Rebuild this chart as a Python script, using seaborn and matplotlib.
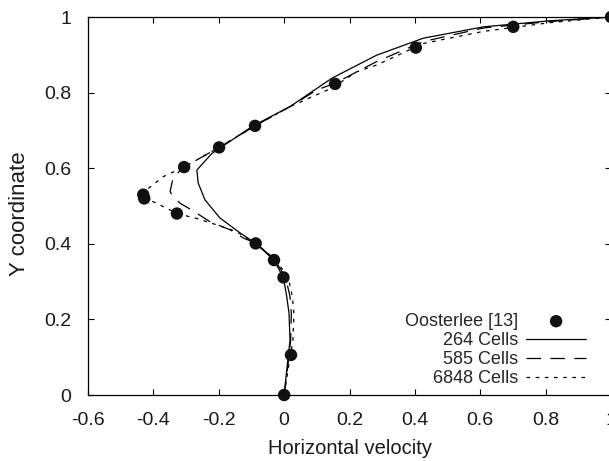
import matplotlib
matplotlib.use("Agg")
import matplotlib.pyplot as plt
import seaborn as sns
import pandas as pd

# Reference data (Oosterlee [13])
ref_y = [0, 0.106, 0.311, 0.357, 0.401, 0.48, 0.52, 0.53, 0.603, 0.655, 0.712, 0.823, 0.919, 0.974, 1.0]
ref_x = [0, 0.021, -0.002, -0.031, -0.087, -0.328, -0.428, -0.431, -0.306, -0.199, -0.089, 0.156, 0.403, 0.701, 1.0]

# 264 Cells
c264_y = [0, 0.066, 0.145, 0.216, 0.26, 0.31, 0.357, 0.401, 0.429, 0.468, 0.516, 0.561, 0.595, 0.639, 0.712, 0.763, 0.838, 0.899, 0.944, 0.974, 0.99, 1.0]
c264_x = [0, 0.008, 0.018, 0.015, 0.008, -0.002, -0.031, -0.087, -0.135, -0.196, -0.242, -0.263, -0.267, -0.221, -0.095, 0.018, 0.146, 0.283, 0.426, 0.61, 0.813, 1.0]

# 585 Cells
c585_y = [0, 0.066, 0.145, 0.216, 0.26, 0.31, 0.357, 0.401, 0.415, 0.437, 0.458, 0.489, 0.507, 0.525, 0.538, 0.577, 0.603, 0.655, 0.712, 0.763, 0.807, 0.825, 0.882, 0.935, 0.971, 0.988, 1.0]
c585_x = [0, 0.01, 0.02, 0.022, 0.018, 0.005, -0.028, -0.085, -0.124, -0.165, -0.226, -0.282, -0.318, -0.339, -0.349, -0.339, -0.306, -0.199, -0.089, 0.018, 0.1, 0.156, 0.283, 0.426, 0.61, 0.813, 1.0]

# 6848 Cells
c6848_y = [0, 0.066, 0.145, 0.216, 0.26, 0.31, 0.357, 0.401, 0.432, 0.45, 0.467, 0.48, 0.494, 0.511, 0.53, 0.578, 0.603, 0.655, 0.712, 0.763, 0.812, 0.855, 0.873, 0.93, 0.962, 0.985, 1.0]
c6848_x = [0, 0.012, 0.027, 0.03, 0.025, 0.013, -0.025, -0.087, -0.145, -0.206, -0.267, -0.328, -0.359, -0.4, -0.44, -0.369, -0.306, -0.199, -0.089, 0.018, 0.146, 0.222, 0.283, 0.426, 0.61, 0.813, 1.0]

x_ticks = [-0.6, -0.4, -0.2, 0, 0.2, 0.4, 0.6, 0.8, 1]
x_ticklabels = ["-0.6", "-0.4", "-0.2", "0", "0.2", "0.4", "0.6", "0.8", "1"]
y_ticks = [0, 0.2, 0.4, 0.6, 0.8, 1]
y_ticklabels = ["0", "0.2", "0.4", "0.6", "0.8", "1"]

sns.set_theme(style="ticks")
plt.rcParams["font.family"] = ["Liberation Sans", "DejaVu Sans"]
plt.rcParams["lines.scale_dashes"] = False

fig = plt.figure(figsize=(6.09, 4.61), dpi=100)
ax = fig.add_axes([88 / 609, 66 / 461, 523 / 609, 378 / 461])

series = [
    ("264 Cells", c264_x, c264_y, "-"),
    ("585 Cells", c585_x, c585_y, (0, (10.5, 6.7))),
    ("6848 Cells", c6848_x, c6848_y, (0, (2.6, 4.0))),
]
for name, xs, ys, ls in series:
    df = pd.DataFrame({"x": xs, "y": ys})
    sns.lineplot(data=df, x="x", y="y", sort=False, estimator=None, ax=ax,
                 color="black", linewidth=0.9, linestyle=ls, label=name)

ref_df = pd.DataFrame({"x": ref_x, "y": ref_y})
sns.scatterplot(data=ref_df, x="x", y="y", ax=ax, color="#111111", s=80,
                edgecolor="none", zorder=5, label="Oosterlee [13]", clip_on=False)

ax.set_xlim(-0.6, 1.0)
ax.set_ylim(0, 1.0)
ax.set_xticks(x_ticks)
ax.set_xticklabels(x_ticklabels)
ax.set_yticks(y_ticks)
ax.set_yticklabels(y_ticklabels)
ax.tick_params(direction="in", length=4.5, width=0.8, top=True, right=True,
               labelsize=14, colors="black", labelcolor="#1a1a1a")
ax.tick_params(axis="x", pad=12)
ax.tick_params(axis="y", pad=12)
for sp in ax.spines.values():
    sp.set_linewidth(0.9)
    sp.set_color("black")
ax.set_xlabel("Horizontal velocity", fontsize=14.5, labelpad=7.5, color="#1a1a1a")
ax.set_ylabel("Y coordinate", fontsize=16, color="#1a1a1a")
ax.yaxis.set_label_coords(-0.111, 0.48)

handles, labels = ax.get_legend_handles_labels()
order = [labels.index(l) for l in ["Oosterlee [13]", "264 Cells", "585 Cells", "6848 Cells"]]
ax.legend([handles[i] for i in order], [labels[i] for i in order],
          loc="lower right", bbox_to_anchor=(0.952, 0.02), frameon=False,
          markerfirst=False, fontsize=13, handlelength=3.3, handletextpad=0.45,
          labelspacing=0.12, borderpad=0, borderaxespad=0)

fig.savefig("out.png", dpi=100)
